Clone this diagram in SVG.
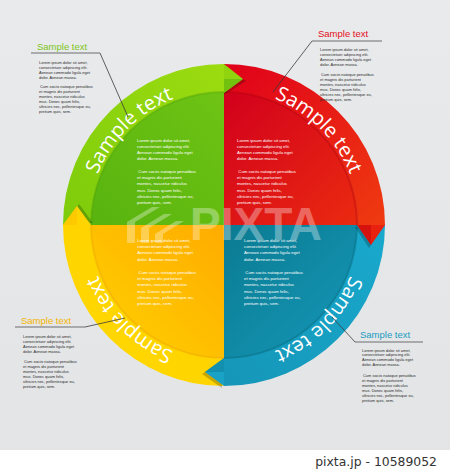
<svg xmlns="http://www.w3.org/2000/svg" width="450" height="469" viewBox="0 0 450 469">
<defs>
<linearGradient id="bgG" x1="0" y1="0" x2="0" y2="1"><stop offset="0" stop-color="#e9eaeb"/><stop offset="1" stop-color="#e3e4e5"/></linearGradient>
<linearGradient id="gBand" x1="1" y1="0" x2="0" y2="1"><stop offset="0" stop-color="#9cdc10"/><stop offset="1" stop-color="#7dcb0b"/></linearGradient>
<linearGradient id="gIn" x1="1" y1="0" x2="0" y2="1"><stop offset="0" stop-color="#6fc414"/><stop offset="1" stop-color="#58b30f"/></linearGradient>
<linearGradient id="rBand" x1="0" y1="0" x2="1" y2="1"><stop offset="0" stop-color="#e0001a"/><stop offset="1" stop-color="#ef3b10"/></linearGradient>
<linearGradient id="rIn" x1="0" y1="0" x2="1" y2="1"><stop offset="0" stop-color="#d2001c"/><stop offset="1" stop-color="#ea2a10"/></linearGradient>
<linearGradient id="bBand" x1="1" y1="0" x2="0" y2="1"><stop offset="0" stop-color="#19a9cd"/><stop offset="1" stop-color="#1596b8"/></linearGradient>
<linearGradient id="bIn" x1="0" y1="0" x2="1" y2="1"><stop offset="0" stop-color="#0b7b92"/><stop offset="1" stop-color="#1598b8"/></linearGradient>
<linearGradient id="yBand" x1="1" y1="0" x2="0" y2="1"><stop offset="0" stop-color="#ffd000"/><stop offset="1" stop-color="#ffd900"/></linearGradient>
<linearGradient id="yIn" x1="1" y1="0" x2="0" y2="1"><stop offset="0" stop-color="#ffac00"/><stop offset="1" stop-color="#ffd200"/></linearGradient>
<path id="arcG" d="M88,225 A136,136 0 0 1 224,89"/>
<path id="arcR" d="M224,89 A136,136 0 0 1 360,225"/>
<path id="arcB" d="M360,225 A136,136 0 0 1 224,361"/>
<path id="arcY" d="M224,361 A136,136 0 0 1 88,225"/>
</defs>
<style>
.arc{font-family:"Open Sans","Liberation Sans",sans-serif;font-size:20px;fill:#fff}
.inb{font-family:"Liberation Sans",Arial,sans-serif;font-size:4.3px;fill:#fff}
.outb{font-family:"Liberation Sans",Arial,sans-serif;font-size:3.95px;fill:#2b2b2b}
.lbl{font-family:"Liberation Sans",Arial,sans-serif;font-size:9.5px}
.lead{fill:none;stroke:#3a3a3a;stroke-width:0.8}
.ul{fill:none;stroke:#6d6e70;stroke-width:1.2}
.edge{fill:none;stroke-width:2;stroke-opacity:0.35}
.shadow{fill:#000;opacity:0.22}
</style>
<rect x="0" y="0" width="450" height="469" fill="url(#bgG)"/>

<g id="quadrant-green">
<path d="M224,225 L63,225 A161,161 0 0 1 224,64 Z" fill="url(#gBand)"/>
<path d="M224,225 L91,225 A133,133 0 0 1 224,92 Z" fill="url(#gIn)"/>
<path class="edge" d="M91,225 A133,133 0 0 1 224,92" stroke="#4a9a0c"/>
<text class="arc"><textPath href="#arcG" startOffset="50%" text-anchor="middle">Sample text</textPath></text>
<text class="inb"><tspan x="137" y="141.5">Lorem ipsum dolor sit amet,</tspan><tspan x="137" y="147.5">consectetuer adipiscing elit.</tspan><tspan x="137" y="153.5">Aenean commodo ligula eget</tspan><tspan x="137" y="159.7">dolor. Aenean massa.</tspan><tspan x="138.3" y="173.2">Cum sociis natoque penatibus</tspan><tspan x="137" y="179.2">et magnis dis parturient</tspan><tspan x="137" y="185.4">montes, nascetur ridiculus</tspan><tspan x="137" y="191.5">mus. Donec quam felis,</tspan><tspan x="137" y="198">ultricies nec, pellentesque eu,</tspan><tspan x="137" y="204">pretium quis, sem.</tspan></text>
</g>

<g id="quadrant-red">
<path d="M224,225 L224,64 A161,161 0 0 1 385,225 Z" fill="url(#rBand)"/>
<path d="M224,225 L224,92 A133,133 0 0 1 357,225 Z" fill="url(#rIn)"/>
<path class="edge" d="M224,92 A133,133 0 0 1 357,225" stroke="#a8000f"/>
<text class="arc"><textPath href="#arcR" startOffset="50%" text-anchor="middle">Sample text</textPath></text>
<text class="inb"><tspan x="237" y="141.5">Lorem ipsum dolor sit amet,</tspan><tspan x="237" y="147.5">consectetuer adipiscing elit.</tspan><tspan x="237" y="153.5">Aenean commodo ligula eget</tspan><tspan x="237" y="159.7">dolor. Aenean massa.</tspan><tspan x="238.3" y="173.2">Cum sociis natoque penatibus</tspan><tspan x="237" y="179.2">et magnis dis parturient</tspan><tspan x="237" y="185.4">montes, nascetur ridiculus</tspan><tspan x="237" y="191.5">mus. Donec quam felis,</tspan><tspan x="237" y="198">ultricies nec, pellentesque eu,</tspan><tspan x="237" y="204">pretium quis, sem.</tspan></text>
</g>

<g id="quadrant-blue">
<path d="M224,225 L385,225 A161,161 0 0 1 224,386 Z" fill="url(#bBand)"/>
<path d="M224,225 L357,225 A133,133 0 0 1 224,358 Z" fill="url(#bIn)"/>
<path class="edge" d="M357,225 A133,133 0 0 1 224,358" stroke="#075e70"/>
<text class="arc"><textPath href="#arcB" startOffset="50%" text-anchor="middle">Sample text</textPath></text>
<text class="inb"><tspan x="244" y="242.2">Lorem ipsum dolor sit amet,</tspan><tspan x="244" y="248.2">consectetuer adipiscing elit.</tspan><tspan x="244" y="254.4">Aenean commodo ligula eget</tspan><tspan x="244" y="260.5">dolor. Aenean massa.</tspan><tspan x="245.3" y="274.2">Cum sociis natoque penatibus</tspan><tspan x="244" y="280.2">et magnis dis parturient</tspan><tspan x="244" y="286.2">montes, nascetur ridiculus</tspan><tspan x="244" y="292.5">mus. Donec quam felis,</tspan><tspan x="244" y="298.5">ultricies nec, pellentesque eu,</tspan><tspan x="244" y="304.5">pretium quis, sem.</tspan></text>
</g>

<g id="quadrant-yellow">
<path d="M224,225 L224,386 A161,161 0 0 1 63,225 Z" fill="url(#yBand)"/>
<path d="M224,225 L224,358 A133,133 0 0 1 91,225 Z" fill="url(#yIn)"/>
<path class="edge" d="M224,358 A133,133 0 0 1 91,225" stroke="#e89a00"/>
<text class="arc"><textPath href="#arcY" startOffset="50%" text-anchor="middle">Sample text</textPath></text>
<text class="inb"><tspan x="137.3" y="242.2">Lorem ipsum dolor sit amet,</tspan><tspan x="137.3" y="248.2">consectetuer adipiscing elit.</tspan><tspan x="137.3" y="254.4">Aenean commodo ligula eget</tspan><tspan x="137.3" y="260.5">dolor. Aenean massa.</tspan><tspan x="138.6" y="274.2">Cum sociis natoque penatibus</tspan><tspan x="137.3" y="280.2">et magnis dis parturient</tspan><tspan x="137.3" y="286.2">montes, nascetur ridiculus</tspan><tspan x="137.3" y="292.5">mus. Donec quam felis,</tspan><tspan x="137.3" y="298.5">ultricies nec, pellentesque eu,</tspan><tspan x="137.3" y="304.5">pretium quis, sem.</tspan></text>
</g>

<g id="tabs">
<polygon class="shadow" points="224,66 246,81 224,95"/>
<polygon points="224,64 243,79 224,93" fill="#8fd40e"/>
<polygon points="224,79 243,79 224,93" fill="#5fb410" opacity="0.6"/>
<polygon class="shadow" points="383,227 355,227 369,248"/>
<polygon points="385,225 357,225 371,245" fill="#e8220f"/>
<polygon points="371,225 371,245 357,225" fill="#c2000f" opacity="0.45"/>
<polygon class="shadow" points="222,388 222,360 202,374"/>
<polygon points="224,386 224,358 205,372" fill="#1aa2c6"/>
<polygon points="224,372 205,372 224,358" fill="#0a7e95" opacity="0.5"/>
<polygon class="shadow" points="65,223 93,223 79,204"/>
<polygon points="63,225 91,225 77,206" fill="#ffd400"/>
<polygon points="77,225 77,206 63,225" fill="#ffc400" opacity="0.7"/>
</g>

<g id="watermark" fill="#fff" opacity="0.32">
<text x="190" y="240" font-family="Liberation Sans,Arial,sans-serif" font-weight="bold" font-size="46">PIXTA</text>
<path d="M127,243 V222 L152,207 H160 L135,222 V243 Z"/>
<path d="M141,243 V228 L164,214 H172 L149,228 V243 Z"/>
<path d="M155,243 V234 L176,221 H184 L163,234 V243 Z"/>
</g>

<g id="connectors">
<path class="ul" d="M31,53 H100"/>
<path class="lead" d="M100,53 L128,117"/>
<path class="ul" d="M312,41 H382"/>
<path class="lead" d="M312,41 L273,92"/>
<path class="ul" d="M15,327 H85"/>
<path class="lead" d="M85,327 L125,318"/>
<path class="ul" d="M355,342 H423"/>
<path class="lead" d="M355,342 L332,317"/>
</g>

<g id="callout-green">
<text class="lbl" x="37" y="50" fill="#7cc61c">Sample text</text>
<text class="outb"><tspan x="39" y="63.5">Lorem ipsum dolor sit amet,</tspan><tspan x="39" y="68.5">consectetuer adipiscing elit.</tspan><tspan x="39" y="73.5">Aenean commodo ligula eget</tspan><tspan x="39" y="78.5">dolor. Aenean massa.</tspan><tspan x="40" y="88">Cum sociis natoque penatibus</tspan><tspan x="39" y="93">et magnis dis parturient</tspan><tspan x="39" y="98">montes, nascetur ridiculus</tspan><tspan x="39" y="103">mus. Donec quam felis,</tspan><tspan x="39" y="108">ultricies nec, pellentesque eu,</tspan><tspan x="39" y="113">pretium quis, sem.</tspan></text>
</g>

<g id="callout-red">
<text class="lbl" x="318" y="37" fill="#e3101c">Sample text</text>
<text class="outb"><tspan x="320" y="51">Lorem ipsum dolor sit amet,</tspan><tspan x="320" y="56">consectetuer adipiscing elit.</tspan><tspan x="320" y="61">Aenean commodo ligula eget</tspan><tspan x="320" y="66">dolor. Aenean massa.</tspan><tspan x="321" y="76">Cum sociis natoque penatibus</tspan><tspan x="320" y="81">et magnis dis parturient</tspan><tspan x="320" y="86">montes, nascetur ridiculus</tspan><tspan x="320" y="91">mus. Donec quam felis,</tspan><tspan x="320" y="96">ultricies nec, pellentesque eu,</tspan><tspan x="320" y="101">pretium quis, sem.</tspan></text>
</g>

<g id="callout-yellow">
<text class="lbl" x="21" y="324" fill="#f4b400">Sample text</text>
<text class="outb"><tspan x="23" y="337.5">Lorem ipsum dolor sit amet,</tspan><tspan x="23" y="342.5">consectetuer adipiscing elit.</tspan><tspan x="23" y="347.5">Aenean commodo ligula eget</tspan><tspan x="23" y="352.5">dolor. Aenean massa.</tspan><tspan x="24" y="363">Cum sociis natoque penatibus</tspan><tspan x="23" y="368">et magnis dis parturient</tspan><tspan x="23" y="373">montes, nascetur ridiculus</tspan><tspan x="23" y="378">mus. Donec quam felis,</tspan><tspan x="23" y="383">ultricies nec, pellentesque eu,</tspan><tspan x="23" y="388">pretium quis, sem.</tspan></text>
</g>

<g id="callout-blue">
<text class="lbl" x="360" y="338" fill="#1a9cc2">Sample text</text>
<text class="outb"><tspan x="362" y="351.5">Lorem ipsum dolor sit amet,</tspan><tspan x="362" y="356.3">consectetuer adipiscing elit.</tspan><tspan x="362" y="361">Aenean commodo ligula eget</tspan><tspan x="362" y="365.5">dolor. Aenean massa.</tspan><tspan x="363" y="377">Cum sociis natoque penatibus</tspan><tspan x="362" y="382">et magnis dis parturient</tspan><tspan x="362" y="387">montes, nascetur ridiculus</tspan><tspan x="362" y="392">mus. Donec quam felis,</tspan><tspan x="362" y="397">ultricies nec, pellentesque eu,</tspan><tspan x="362" y="402">pretium quis, sem.</tspan></text>
</g>

<g id="footer">
<rect x="0" y="450" width="450" height="19" fill="#fff"/>
<text x="437" y="466" text-anchor="end" font-family="DejaVu Sans,sans-serif" font-size="12.4" fill="#333">pixta.jp - 10589052</text>
</g>
</svg>
